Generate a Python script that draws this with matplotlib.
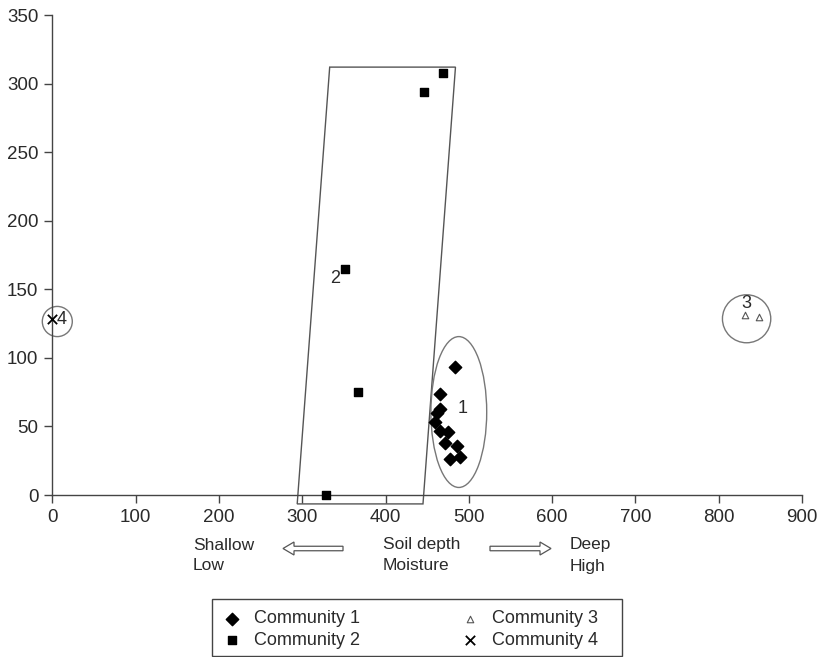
import matplotlib
matplotlib.use("Agg")
import matplotlib.pyplot as plt
from matplotlib.patches import Ellipse, Polygon, FancyArrow, Rectangle

plt.rcParams['font.family'] = ['Liberation Sans', 'DejaVu Sans']

# ---- data ----
c1_x = [483, 465, 465, 462, 459, 465, 475, 472, 486, 478, 489]
c1_y = [93, 74, 63, 60, 53, 47, 46, 38, 36, 26, 28]
c2_x = [469, 446, 351, 367, 329]
c2_y = [308, 294, 165, 75, 0]
c3_x = [831, 848]
c3_y = [131, 130]
c4_x = [0]
c4_y = [128]

xticks = [0, 100, 200, 300, 400, 500, 600, 700, 800, 900]
yticks = [0, 50, 100, 150, 200, 250, 300, 350]

# group outlines (data coords)
para_x = [333, 484, 445, 294]
para_y = [312, 312, -6.5, -6.5]
ell1 = dict(xy=(488, 60.5), width=67, height=110)
circ3 = dict(xy=(833.5, 128.5), width=58, height=35)
circ4 = dict(xy=(6, 126.5), width=36, height=22)

W, H = 823, 657
fig = plt.figure(figsize=(W/100, H/100), dpi=100)
ax = fig.add_axes([52.3/W, 1-495/H, (802-52.3)/W, (495-15)/H])

ink = '#2a2a2a'
ax.set_xlim(0, 900)
ax.set_ylim(0, 350)
for s in ['top', 'right']:
    ax.spines[s].set_visible(False)
for s in ['left', 'bottom']:
    ax.spines[s].set_color('#444444')
    ax.spines[s].set_linewidth(1.0)
ax.set_xticks(xticks)
ax.set_yticks(yticks)
ax.tick_params(direction='out', length=6, width=1.0, color='#444444',
               labelsize=13.5, labelcolor=ink, pad=4)

h1 = ax.scatter(c1_x, c1_y, marker='D', s=40, color='black', zorder=5, clip_on=False,
                label='Community 1')
h2 = ax.scatter(c2_x, c2_y, marker='s', s=32, color='black', zorder=5, clip_on=False,
                label='Community 2')
h3 = ax.scatter(c3_x, c3_y, marker='^', s=22, facecolor='white', edgecolor='#555555',
                linewidth=0.8, zorder=5, clip_on=False, label='Community 3')
h4 = ax.scatter(c4_x, c4_y, marker='x', s=45, color='black', linewidth=1.3, zorder=5,
                clip_on=False, label='Community 4')

ax.add_patch(Polygon(list(zip(para_x, para_y)), closed=True, fill=False,
                     edgecolor='#555555', linewidth=1.0, clip_on=False))
for e in (ell1, circ3, circ4):
    ax.add_patch(Ellipse(e['xy'], e['width'], e['height'], fill=False,
                         edgecolor='#777777', linewidth=1.0, clip_on=False))

ax.text(492, 63, '1', fontsize=13, ha='center', va='center', color=ink)
ax.text(339, 158, '2', fontsize=13, ha='center', va='center', color=ink)
ax.text(833, 140, '3', fontsize=13, ha='center', va='center', color=ink)
ax.text(11, 128, '4', fontsize=13, ha='center', va='center', color=ink)

def fx(px):
    return px / W

def fy(py):
    return 1 - py / H

fs = 12.5
fig.text(fx(193), fy(545), 'Shallow', fontsize=fs, va='center', ha='left', color=ink)
fig.text(fx(193), fy(566), 'Low', fontsize=fs, va='center', ha='left', color=ink)
fig.text(fx(383), fy(545), 'Soil depth', fontsize=fs, va='center', ha='left', color=ink)
fig.text(fx(383), fy(566), 'Moisture', fontsize=fs, va='center', ha='left', color=ink)
fig.text(fx(570), fy(545), 'Deep', fontsize=fs, va='center', ha='left', color=ink)
fig.text(fx(570), fy(566), 'High', fontsize=fs, va='center', ha='left', color=ink)

# hollow arrows in pixel space
for x0, x1 in ((343, 283), (490, 551)):
    dx = x1 - x0
    arr = FancyArrow(fx(x0), fy(548.5), dx / W, 0, width=4.5 / H, head_width=13 / H,
                     head_length=11 / W, length_includes_head=True,
                     transform=fig.transFigure, facecolor='white',
                     edgecolor='#555555', linewidth=0.9)
    fig.add_artist(arr)

leg = fig.legend(handles=[h1, h2, h3, h4], ncol=2,
                 loc='lower left', bbox_to_anchor=(214 / W, 1 / H, 391 / W, 57 / H),
                 mode='expand', borderaxespad=0, frameon=False,
                 fontsize=13, handletextpad=0.6, labelspacing=0.25,
                 borderpad=0.4, handlelength=1.2, columnspacing=2.0)
for t in leg.get_texts():
    t.set_color(ink)
fig.add_artist(Rectangle((fx(212), fy(656)), (622 - 212) / W, (656 - 599) / H,
                         transform=fig.transFigure, fill=False,
                         edgecolor='#444444', linewidth=1.0))

fig.savefig('out.png', dpi=100)
